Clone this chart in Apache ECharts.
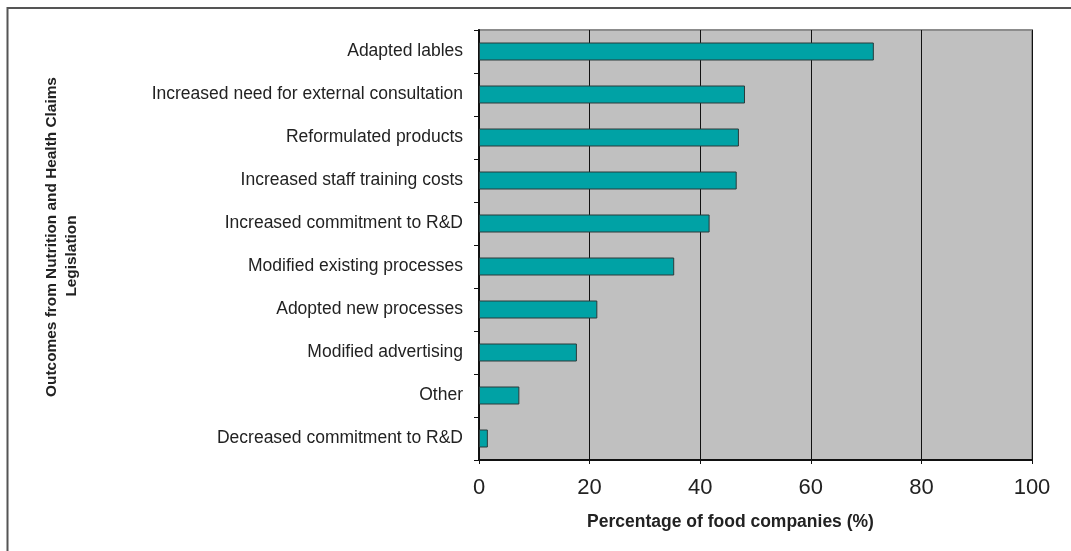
<!DOCTYPE html>
<html>
<head>
<meta charset="utf-8">
<script src="https://cdn.jsdelivr.net/npm/echarts@6/dist/echarts.min.js"></script>
<style>html,body{margin:0;padding:0;background:#fff;}#chart{width:1071px;height:551px;}</style>
</head>
<body>
<div id="chart"></div>
<script>
const categories = [
  "Adapted lables",
  "Increased need for external consultation",
  "Reformulated products",
  "Increased staff training costs",
  "Increased commitment to R&D",
  "Modified existing processes",
  "Adopted new processes",
  "Modified advertising",
  "Other",
  "Decreased commitment to R&D"
];
const percentages = [71.4, 48.1, 47.0, 46.6, 41.7, 35.3, 21.4, 17.7, 7.3, 1.6];
const xTicks = [0, 20, 40, 60, 80, 100];
const xTitle = "Percentage of food companies (%)";
const yTitleLines = ["Outcomes from Nutrition and Health Claims", "Legislation"];

const FONT = "'Liberation Sans', Arial, sans-serif";
const chart = echarts.init(document.getElementById('chart'), null, {renderer: 'canvas'});
chart.setOption({
  animation: false,
  backgroundColor: '#ffffff',
  grid: {
    left: 479, right: 39, top: 30, bottom: 91,
    show: true, backgroundColor: '#C0C0C0', borderColor: '#8c8c8c', borderWidth: 2
  },
  xAxis: {
    type: 'value',
    min: xTicks[0], max: xTicks[xTicks.length - 1], interval: xTicks[1] - xTicks[0],
    axisLine: {show: true, lineStyle: {color: '#111', width: 2}},
    axisTick: {show: true, length: 4, lineStyle: {color: '#111', width: 1}},
    splitLine: {show: true, lineStyle: {color: '#111', width: 1}},
    axisLabel: {fontFamily: FONT, fontSize: 22, color: '#222', margin: 17},
    name: xTitle,
    nameLocation: 'middle',
    nameGap: 53,
    nameTextStyle: {fontFamily: FONT, fontSize: 17.5, fontWeight: 'bold', color: '#222', padding: [0, 50, 0, 0]}
  },
  yAxis: {
    type: 'category',
    data: categories,
    inverse: true,
    axisLine: {show: true, lineStyle: {color: '#111', width: 2}},
    axisTick: {show: true, length: 5, interval: 0, lineStyle: {color: '#111', width: 1}},
    splitLine: {show: false},
    axisLabel: {fontFamily: FONT, fontSize: 17.5, color: '#222', margin: 16, interval: 0}
  },
  series: [{
    type: 'bar',
    data: percentages,
    barWidth: 18,
    itemStyle: {color: '#00A2A5', borderColor: '#2a3a3a', borderWidth: 1}
  }],
  graphic: [
    {type: 'rect', silent: true, z: -1,
     shape: {x: 7.5, y: 8, width: 1200, height: 800},
     style: {fill: 'none', stroke: '#555', lineWidth: 2}},
    {type: 'text', x: 52, y: 237, rotation: Math.PI / 2,
     style: {text: yTitleLines[0], font: "bold 15.4px 'Liberation Sans', Arial, sans-serif", fill: '#222', align: 'center', verticalAlign: 'middle'}},
    {type: 'text', x: 72, y: 256, rotation: Math.PI / 2,
     style: {text: yTitleLines[1], font: "bold 15.4px 'Liberation Sans', Arial, sans-serif", fill: '#222', align: 'center', verticalAlign: 'middle'}}
  ]
});
</script>
</body>
</html>
